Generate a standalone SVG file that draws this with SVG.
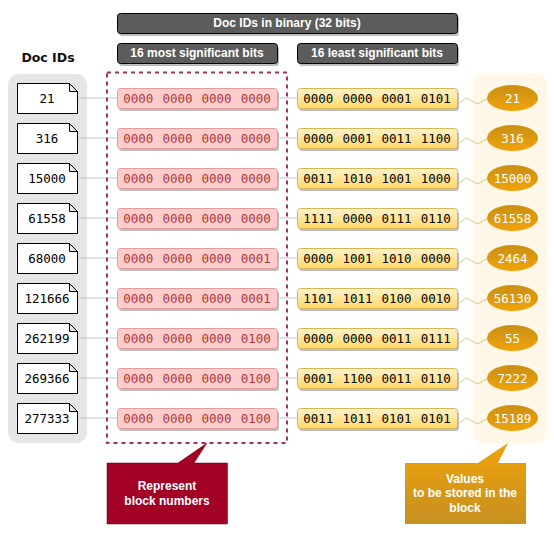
<svg xmlns="http://www.w3.org/2000/svg" width="554" height="536" viewBox="0 0 554 536">
<style>
text{text-anchor:middle;dominant-baseline:central}
.m{font:12.500px "DejaVu Sans Mono",monospace;word-spacing:1.500px}
.b{font:bold 12px "Liberation Sans",Arial,sans-serif;fill:#fff}
.s{fill:#bdbdbd}
.h{fill:#5c5c5c;stroke:#000;stroke-width:1}
.d{fill:#fff;stroke:#000;stroke-width:1;stroke-linejoin:miter}
.r{fill:#ffcccc;stroke:#e59b9b;stroke-width:1}
.rt{fill:#a83a3a}
.y{fill:url(#gy);stroke:#d6b656;stroke-width:1}
.e{fill:url(#ge)}
.et{fill:#fff}
.c{fill:none;stroke:#c8c8c8;stroke-width:1}
.cy{fill:none;stroke:#d9c98f;stroke-width:1}
</style>
<defs>
<linearGradient id="gy" x1="0" y1="0" x2="0" y2="1"><stop offset="0" stop-color="#fff2cc"/><stop offset="1" stop-color="#ffd966"/></linearGradient>
<linearGradient id="ge" x1="0" y1="0" x2="0" y2="1"><stop offset="0" stop-color="#c98f12"/><stop offset="1" stop-color="#f0a30a"/></linearGradient>
<linearGradient id="go" x1="0" y1="0" x2="0" y2="1"><stop offset="0" stop-color="#f0a30a"/><stop offset="1" stop-color="#c69020"/></linearGradient>
</defs>
<g id="panels">
<rect x="8" y="74" width="79" height="369" rx="11" fill="#e6e6e6"/>
<rect x="473" y="73" width="74" height="370" rx="11" fill="#fff8e8"/>
</g>
<g id="connectors">
<path class="c" d="M78 98H117M78 138H117M78 178H117M78 218H117M78 258H117M78 298H117M78 338H117M78 378H117M78 418H117"/>
<path class="c" d="M277 98H297M277 138H297M277 178H297M277 218H297M277 258H297M277 298H297M277 338H297M277 378H297M277 418H297"/>
<path class="cy" d="M458 104L466 98L478 104L488 98M458 144L466 138L478 144L488 138M458 184L466 178L478 184L488 178M458 224L466 218L478 224L488 218M458 264L466 258L478 264L488 258M458 304L466 298L478 304L488 298M458 344L466 338L478 344L488 338M458 384L466 378L478 384L488 378M458 424L466 418L478 424L488 418"/>
</g>
<g id="title"><rect class="s" x="119" y="16" width="340" height="20" rx="3"/><rect class="h" x="117.500" y="13.500" width="340" height="20" rx="3"/><text class="b" x="287" y="23">Doc IDs in binary (32 bits)</text></g>
<g id="head-most"><rect class="s" x="119" y="46" width="160" height="20" rx="3"/><rect class="h" x="117.500" y="43.500" width="160" height="20" rx="3"/><text class="b" x="197" y="53">16 most significant bits</text></g>
<g id="head-least"><rect class="s" x="299" y="46" width="160" height="20" rx="3"/><rect class="h" x="297.500" y="43.500" width="160" height="20" rx="3"/><text class="b" x="377" y="53">16 least significant bits</text></g>
<text id="doc-ids-label" x="48" y="57" style="font:bold 12.500px 'DejaVu Sans',sans-serif;fill:#111">Doc IDs</text>
<g id="row1"><path class="d" d="M17.500 83.500H69.500L77.500 91.500V113.500H17.500ZM69.500 83.500V91.500H77.500"/><text class="m" x="47" y="98">21</text><rect class="s" x="119" y="91" width="160" height="20" rx="3"/><rect class="r" x="117.500" y="88.500" width="160" height="20" rx="3"/><text class="m rt" x="197" y="98">0000 0000 0000 0000</text><rect class="s" x="299" y="91" width="160" height="20" rx="3"/><rect class="y" x="297.500" y="88.500" width="160" height="20" rx="3"/><text class="m" x="377" y="98">0000 0000 0001 0101</text><ellipse class="e" cx="512.500" cy="98" rx="25.500" ry="13"/><text class="m et" x="512.500" y="98">21</text></g>
<g id="row2"><path class="d" d="M17.500 123.500H69.500L77.500 131.500V153.500H17.500ZM69.500 123.500V131.500H77.500"/><text class="m" x="47" y="138">316</text><rect class="s" x="119" y="131" width="160" height="20" rx="3"/><rect class="r" x="117.500" y="128.500" width="160" height="20" rx="3"/><text class="m rt" x="197" y="138">0000 0000 0000 0000</text><rect class="s" x="299" y="131" width="160" height="20" rx="3"/><rect class="y" x="297.500" y="128.500" width="160" height="20" rx="3"/><text class="m" x="377" y="138">0000 0001 0011 1100</text><ellipse class="e" cx="512.500" cy="138" rx="25.500" ry="13"/><text class="m et" x="512.500" y="138">316</text></g>
<g id="row3"><path class="d" d="M17.500 163.500H69.500L77.500 171.500V193.500H17.500ZM69.500 163.500V171.500H77.500"/><text class="m" x="47" y="178">15000</text><rect class="s" x="119" y="171" width="160" height="20" rx="3"/><rect class="r" x="117.500" y="168.500" width="160" height="20" rx="3"/><text class="m rt" x="197" y="178">0000 0000 0000 0000</text><rect class="s" x="299" y="171" width="160" height="20" rx="3"/><rect class="y" x="297.500" y="168.500" width="160" height="20" rx="3"/><text class="m" x="377" y="178">0011 1010 1001 1000</text><ellipse class="e" cx="512.500" cy="178" rx="25.500" ry="13"/><text class="m et" x="512.500" y="178">15000</text></g>
<g id="row4"><path class="d" d="M17.500 203.500H69.500L77.500 211.500V233.500H17.500ZM69.500 203.500V211.500H77.500"/><text class="m" x="47" y="218">61558</text><rect class="s" x="119" y="211" width="160" height="20" rx="3"/><rect class="r" x="117.500" y="208.500" width="160" height="20" rx="3"/><text class="m rt" x="197" y="218">0000 0000 0000 0000</text><rect class="s" x="299" y="211" width="160" height="20" rx="3"/><rect class="y" x="297.500" y="208.500" width="160" height="20" rx="3"/><text class="m" x="377" y="218">1111 0000 0111 0110</text><ellipse class="e" cx="512.500" cy="218" rx="25.500" ry="13"/><text class="m et" x="512.500" y="218">61558</text></g>
<g id="row5"><path class="d" d="M17.500 243.500H69.500L77.500 251.500V273.500H17.500ZM69.500 243.500V251.500H77.500"/><text class="m" x="47" y="258">68000</text><rect class="s" x="119" y="251" width="160" height="20" rx="3"/><rect class="r" x="117.500" y="248.500" width="160" height="20" rx="3"/><text class="m rt" x="197" y="258">0000 0000 0000 0001</text><rect class="s" x="299" y="251" width="160" height="20" rx="3"/><rect class="y" x="297.500" y="248.500" width="160" height="20" rx="3"/><text class="m" x="377" y="258">0000 1001 1010 0000</text><ellipse class="e" cx="512.500" cy="258" rx="25.500" ry="13"/><text class="m et" x="512.500" y="258">2464</text></g>
<g id="row6"><path class="d" d="M17.500 283.500H69.500L77.500 291.500V313.500H17.500ZM69.500 283.500V291.500H77.500"/><text class="m" x="47" y="298">121666</text><rect class="s" x="119" y="291" width="160" height="20" rx="3"/><rect class="r" x="117.500" y="288.500" width="160" height="20" rx="3"/><text class="m rt" x="197" y="298">0000 0000 0000 0001</text><rect class="s" x="299" y="291" width="160" height="20" rx="3"/><rect class="y" x="297.500" y="288.500" width="160" height="20" rx="3"/><text class="m" x="377" y="298">1101 1011 0100 0010</text><ellipse class="e" cx="512.500" cy="298" rx="25.500" ry="13"/><text class="m et" x="512.500" y="298">56130</text></g>
<g id="row7"><path class="d" d="M17.500 323.500H69.500L77.500 331.500V353.500H17.500ZM69.500 323.500V331.500H77.500"/><text class="m" x="47" y="338">262199</text><rect class="s" x="119" y="331" width="160" height="20" rx="3"/><rect class="r" x="117.500" y="328.500" width="160" height="20" rx="3"/><text class="m rt" x="197" y="338">0000 0000 0000 0100</text><rect class="s" x="299" y="331" width="160" height="20" rx="3"/><rect class="y" x="297.500" y="328.500" width="160" height="20" rx="3"/><text class="m" x="377" y="338">0000 0000 0011 0111</text><ellipse class="e" cx="512.500" cy="338" rx="25.500" ry="13"/><text class="m et" x="512.500" y="338">55</text></g>
<g id="row8"><path class="d" d="M17.500 363.500H69.500L77.500 371.500V393.500H17.500ZM69.500 363.500V371.500H77.500"/><text class="m" x="47" y="378">269366</text><rect class="s" x="119" y="371" width="160" height="20" rx="3"/><rect class="r" x="117.500" y="368.500" width="160" height="20" rx="3"/><text class="m rt" x="197" y="378">0000 0000 0000 0100</text><rect class="s" x="299" y="371" width="160" height="20" rx="3"/><rect class="y" x="297.500" y="368.500" width="160" height="20" rx="3"/><text class="m" x="377" y="378">0001 1100 0011 0110</text><ellipse class="e" cx="512.500" cy="378" rx="25.500" ry="13"/><text class="m et" x="512.500" y="378">7222</text></g>
<g id="row9"><path class="d" d="M17.500 403.500H69.500L77.500 411.500V433.500H17.500ZM69.500 403.500V411.500H77.500"/><text class="m" x="47" y="418">277333</text><rect class="s" x="119" y="411" width="160" height="20" rx="3"/><rect class="r" x="117.500" y="408.500" width="160" height="20" rx="3"/><text class="m rt" x="197" y="418">0000 0000 0000 0100</text><rect class="s" x="299" y="411" width="160" height="20" rx="3"/><rect class="y" x="297.500" y="408.500" width="160" height="20" rx="3"/><text class="m" x="377" y="418">0011 1011 0101 0101</text><ellipse class="e" cx="512.500" cy="418" rx="25.500" ry="13"/><text class="m et" x="512.500" y="418">15189</text></g>
<rect id="block-frame" x="107" y="72.500" width="180" height="370.500" fill="none" stroke="#a5305f" stroke-width="2" stroke-dasharray="4 4"/>
<g id="callout-red"><path d="M107 463H178L207 443L194 463H227.500V524H107Z" fill="#a20025" stroke="#6f0000" stroke-width="0.500"/><text class="b" x="167" y="485.500">Represent</text><text class="b" x="167" y="500.500">block numbers</text></g>
<g id="callout-orange"><path d="M405 463H478L508 443L498 463H526V524H405Z" fill="url(#go)"/><text class="b" x="465" y="478.500">Values</text><text class="b" x="465" y="493">to be stored in the</text><text class="b" x="465" y="507.500">block</text></g>
</svg>
